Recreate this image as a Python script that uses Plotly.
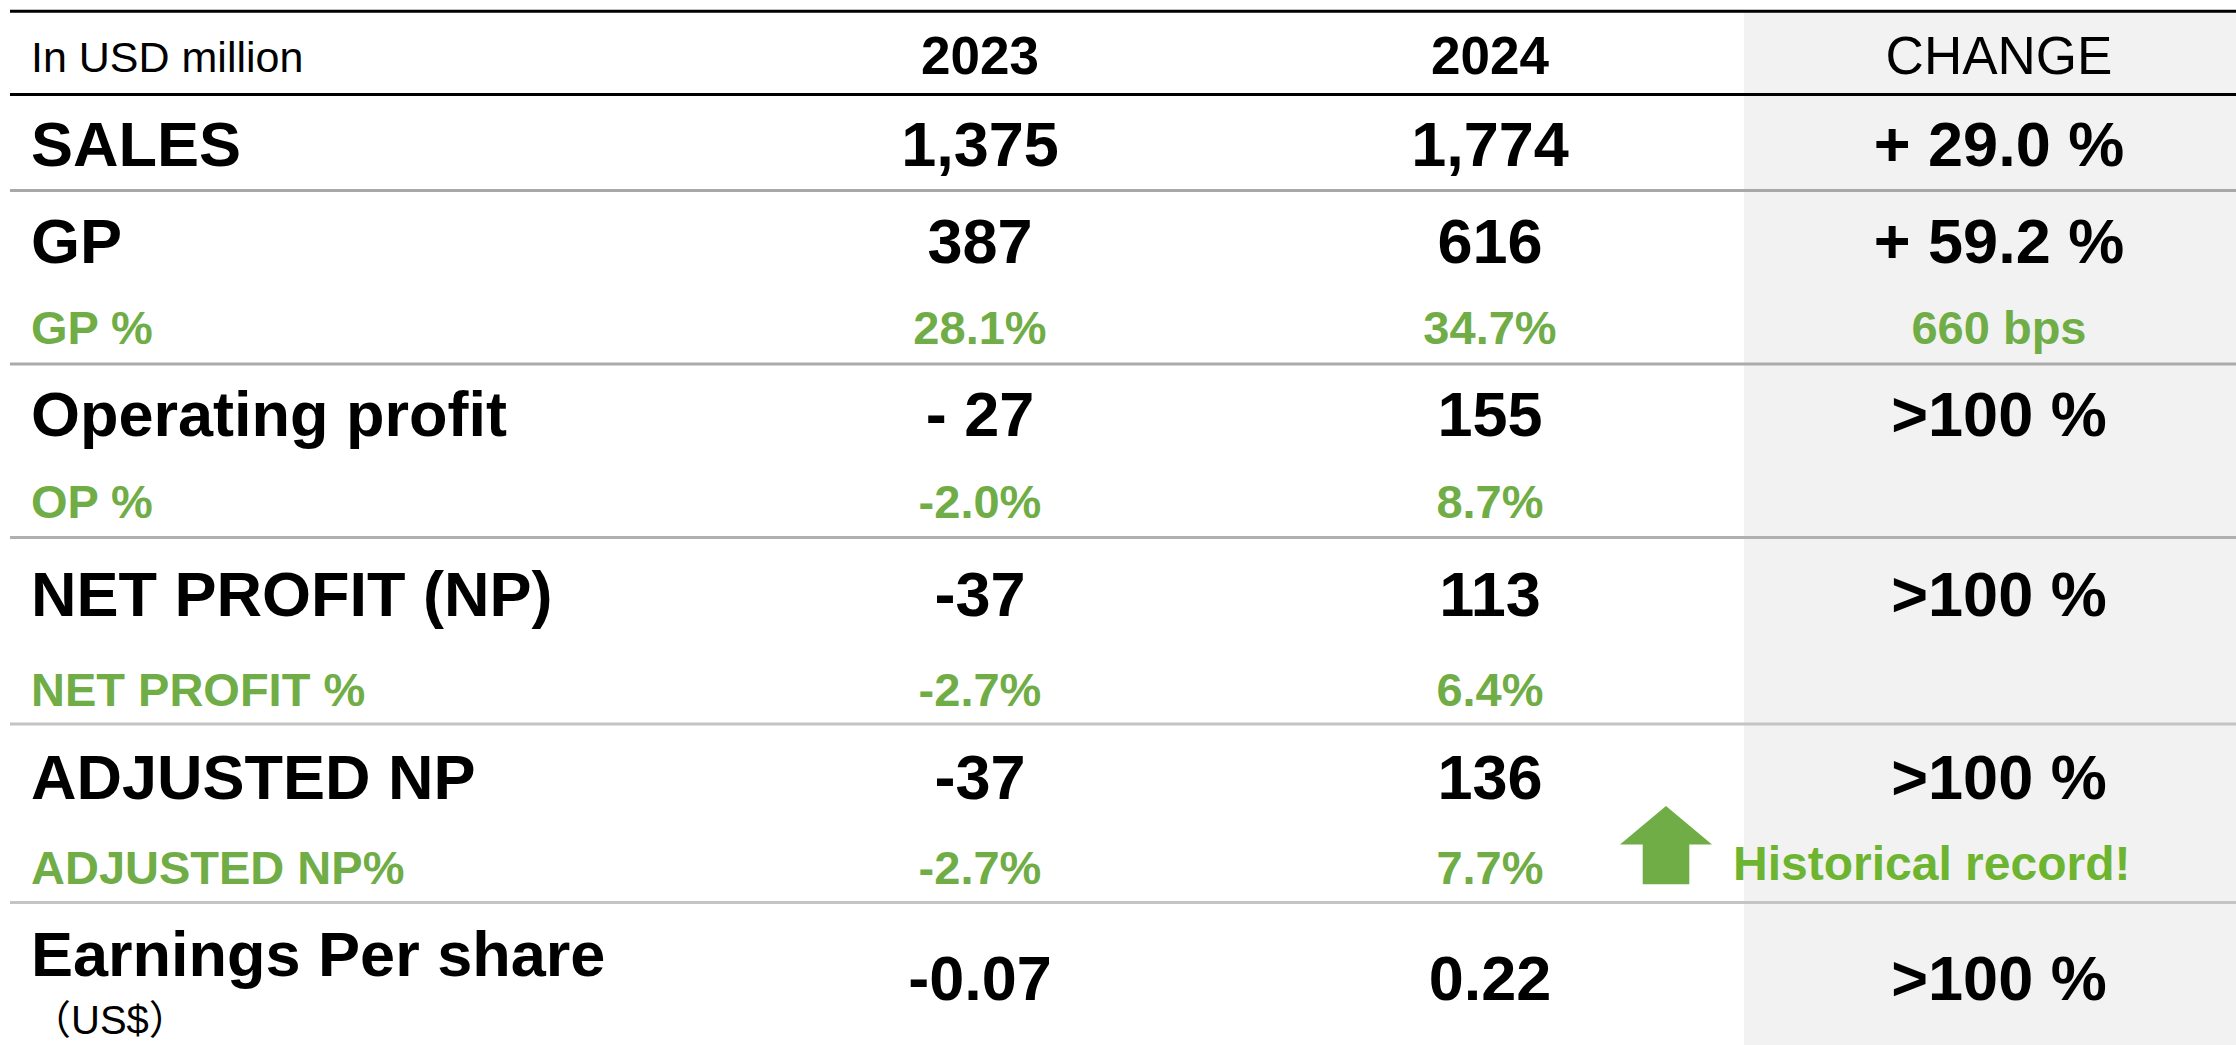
import plotly.graph_objects as go

# ---------------- data ----------------
header_unit = "In USD million"
years = ["2023", "2024"]
change_header = "CHANGE"

labels = ["SALES", "GP", "GP %", "Operating profit", "OP %",
          "NET PROFIT (NP)", "NET PROFIT %", "ADJUSTED NP", "ADJUSTED NP%",
          "Earnings Per share"]
row_kind = ["main", "main", "pct", "main", "pct", "main", "pct", "main", "pct", "main"]
values_2023 = ["1,375", "387", "28.1%", "- 27", "-2.0%", "-37", "-2.7%", "-37", "-2.7%", "-0.07"]
values_2024 = ["1,774", "616", "34.7%", "155", "8.7%", "113", "6.4%", "136", "7.7%", "0.22"]
changes = ["+ 29.0 %", "+ 59.2 %", "660 bps", ">100 %", "", ">100 %", "", ">100 %", "", ">100 %"]
eps_unit = "US$"
note = "Historical record!"

# ---------------- layout constants ----------------
W, H = 2236, 1045
FONT = "Liberation Sans, Arial, sans-serif"
CJK = "Noto Sans CJK JP"
GREEN = "#70AD47"
GREEN2 = "#6DB530"
DY = 7  # text baseline compensation
label_y = [143.5, 240, 325.5, 413.5, 499.5, 593.5, 687.5, 776.5, 865.5, 953.5]
value_y = [143.5, 240, 325.5, 413.5, 499.5, 593.5, 687.5, 776.5, 865.5, 977.5]
x_label = 31
x_cols = [980, 1490, 1999]
header_y = 54

def color_of(k):
    return "black" if k == "main" else GREEN

def size_of(k):
    return 63 if k == "main" else 47

fig = go.Figure()

# labels
fig.add_trace(go.Scatter(
    x=[x_label] * len(labels), y=[v + DY for v in label_y], mode="text",
    text=[f"<b>{t}</b>" for t in labels], textposition="middle right",
    textfont=dict(family=FONT, size=[size_of(k) for k in row_kind],
                  color=[color_of(k) for k in row_kind]),
    hoverinfo="skip", showlegend=False))

# value columns
for xc, vals in zip(x_cols, [values_2023, values_2024, changes]):
    fig.add_trace(go.Scatter(
        x=[xc] * len(vals), y=[v + DY for v in value_y], mode="text",
        text=[f"<b>{t}</b>" for t in vals], textposition="middle center",
        textfont=dict(family=FONT, size=[size_of(k) for k in row_kind],
                      color=[color_of(k) for k in row_kind]),
        hoverinfo="skip", showlegend=False))

# header
fig.add_trace(go.Scatter(
    x=[x_label], y=[header_y + DY], mode="text", text=[header_unit],
    textposition="middle right",
    textfont=dict(family=FONT, size=43, color="black"),
    hoverinfo="skip", showlegend=False))
fig.add_trace(go.Scatter(
    x=x_cols[:2], y=[header_y + DY] * 2, mode="text",
    text=[f"<b>{y}</b>" for y in years], textposition="middle center",
    textfont=dict(family=FONT, size=53, color="black"),
    hoverinfo="skip", showlegend=False))
fig.add_trace(go.Scatter(
    x=[x_cols[2]], y=[header_y + DY], mode="text", text=[change_header],
    textposition="middle center",
    textfont=dict(family=FONT, size=53, color="black"),
    hoverinfo="skip", showlegend=False))

# EPS unit with full-width parentheses
eps_text = (f'<span style="font-family:{CJK}">（</span>{eps_unit}'
            f'<span style="font-family:{CJK}">）</span>')
fig.add_trace(go.Scatter(
    x=[x_label], y=[1017 + DY], mode="text", text=[eps_text],
    textposition="middle right",
    textfont=dict(family=FONT, size=40, color="black"),
    hoverinfo="skip", showlegend=False))

# note
fig.add_trace(go.Scatter(
    x=[1733], y=[860.5 + DY], mode="text", text=[f"<b>{note}</b>"],
    textposition="middle right",
    textfont=dict(family=FONT, size=48, color=GREEN2),
    hoverinfo="skip", showlegend=False))

shapes = []
# change column background
shapes.append(dict(type="rect", xref="x", yref="y", x0=1744, x1=W, y0=12, y1=H,
                   fillcolor="#F2F2F2", line=dict(width=0), layer="below"))
# black rules
for yy in [11.3, 94.5]:
    shapes.append(dict(type="line", xref="x", yref="y", x0=10, x1=W, y0=yy, y1=yy,
                       line=dict(color="black", width=3)))
# grey rules
for yy, c in [(190.5, "#A8A8A8"), (364, "#ABABAB"), (537.5, "#B0B0B0"),
              (724, "#C4C4C4"), (902.5, "#C4C4C4")]:
    shapes.append(dict(type="line", xref="x", yref="y", x0=10, x1=W, y0=yy, y1=yy,
                       line=dict(color=c, width=3)))
# arrow
shapes.append(dict(type="path", xref="x", yref="y",
                   path="M 1666 806 L 1712 844.5 L 1689.3 844.5 L 1689.3 884.3 "
                        "L 1642.7 884.3 L 1642.7 844.5 L 1620 844.5 Z",
                   fillcolor=GREEN, line=dict(width=0)))

fig.update_layout(
    width=W, height=H, margin=dict(l=0, r=0, t=0, b=0),
    paper_bgcolor="white", plot_bgcolor="white",
    xaxis=dict(range=[0, W], visible=False, fixedrange=True),
    yaxis=dict(range=[H, 0], visible=False, fixedrange=True),
    shapes=shapes, showlegend=False,
)

fig.write_html("out.html", config={"displayModeBar": False},
               post_script="document.body.style.margin='0';document.body.style.overflow='hidden';")
